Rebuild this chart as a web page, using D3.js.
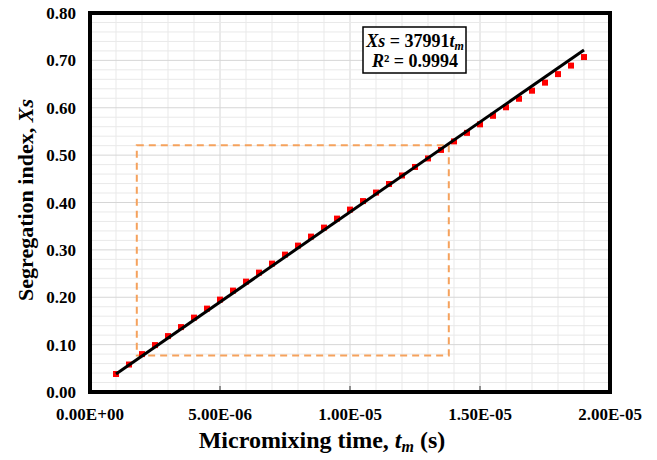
<!DOCTYPE html>
<html>
<head>
<meta charset="utf-8">
<style>
  body { margin: 0; background: #fff; }
  svg text { font-family: "Liberation Serif", "Times New Roman", serif; font-weight: bold; fill: #000; }
</style>
</head>
<body>
<svg id="chart" width="657" height="460"></svg>
<script src="https://cdn.jsdelivr.net/npm/d3@7"></script>
<script>
// micromixing time (s) and segregation index
var timeVals = [1.0e-6, 1.5e-6, 2.0e-6, 2.5e-6, 3.0e-6, 3.5e-6, 4.0e-6, 4.5e-6, 5.0e-6, 5.5e-6,
                6.0e-6, 6.5e-6, 7.0e-6, 7.5e-6, 8.0e-6, 8.5e-6, 9.0e-6, 9.5e-6, 1.0e-5, 1.05e-5,
                1.1e-5, 1.15e-5, 1.2e-5, 1.25e-5, 1.3e-5, 1.35e-5, 1.4e-5, 1.45e-5, 1.5e-5, 1.55e-5,
                1.6e-5, 1.65e-5, 1.7e-5, 1.75e-5, 1.8e-5, 1.85e-5, 1.9e-5];
var xsVals = [0.038, 0.058, 0.080, 0.099, 0.118, 0.137, 0.157, 0.176, 0.195, 0.214,
              0.233, 0.252, 0.271, 0.290, 0.309, 0.328, 0.347, 0.366, 0.385, 0.403,
              0.421, 0.439, 0.457, 0.475, 0.493, 0.511, 0.529, 0.547, 0.565, 0.583,
              0.601, 0.619, 0.636, 0.653, 0.671, 0.689, 0.707];

// linear fit Xs = 37991 tm
var fitSlope = 37991;
var fitRange = [1.0e-6, 1.9e-5];

// orange dashed box
var boxT = [1.8e-6, 1.38e-5];
var boxXs = [0.077, 0.521];

var xTicks = [0, 5e-6, 1e-5, 1.5e-5, 2e-5];
var xTickLabels = ["0.00E+00", "5.00E-06", "1.00E-05", "1.50E-05", "2.00E-05"];
var yTicks = [0, 0.1, 0.2, 0.3, 0.4, 0.5, 0.6, 0.7, 0.8];

var svg = d3.select("#chart");
var plotL = 90, plotR = 610, plotT = 13, plotB = 392;

var x = d3.scaleLinear().domain([0, 2e-5]).range([plotL, plotR]);
var y = d3.scaleLinear().domain([0, 0.8]).range([plotB, plotT]);

// grid
var grid = svg.append("g");
grid.selectAll(".vminor").data(d3.range(1, 20).map(function(i) { return i * 1e-6; }))
  .enter().append("line")
    .attr("x1", function(d) { return x(d); }).attr("x2", function(d) { return x(d); })
    .attr("y1", plotT).attr("y2", plotB)
    .attr("stroke", function(d, i) { return (i + 1) % 5 == 0 ? "#d6d6d6" : "#e9e9e9"; })
    .attr("stroke-width", 1);
grid.selectAll(".hminor").data(d3.range(1, 40).map(function(i) { return i * 0.02; }))
  .enter().append("line")
    .attr("x1", plotL).attr("x2", plotR)
    .attr("y1", function(d) { return y(d); }).attr("y2", function(d) { return y(d); })
    .attr("stroke", function(d, i) { return (i + 1) % 5 == 0 ? "#d6d6d6" : "#e9e9e9"; })
    .attr("stroke-width", 1);

// dashed box
svg.append("rect")
  .attr("x", x(boxT[0])).attr("y", y(boxXs[1]))
  .attr("width", x(boxT[1]) - x(boxT[0]))
  .attr("height", y(boxXs[0]) - y(boxXs[1]))
  .attr("fill", "none")
  .attr("stroke", "#f5a25d")
  .attr("stroke-width", 2)
  .attr("stroke-dasharray", "7,5");

// points
svg.append("g").selectAll("rect")
  .data(timeVals)
  .enter().append("rect")
    .attr("x", function(d) { return x(d) - 3; })
    .attr("y", function(d, i) { return y(xsVals[i]) - 3; })
    .attr("width", 6).attr("height", 6)
    .attr("fill", "#ff0000");

// fit line
svg.append("line")
  .attr("x1", x(fitRange[0])).attr("y1", y(fitSlope * fitRange[0]))
  .attr("x2", x(fitRange[1])).attr("y2", y(fitSlope * fitRange[1]))
  .attr("stroke", "#000")
  .attr("stroke-width", 3);

// x ticks (inward)
svg.append("g").selectAll("line")
  .data(xTicks.slice(1, 4))
  .enter().append("line")
    .attr("x1", function(d) { return x(d); }).attr("x2", function(d) { return x(d); })
    .attr("y1", plotB).attr("y2", plotB - 6)
    .attr("stroke", "#333").attr("stroke-width", 1);

// frame
svg.append("rect")
  .attr("x", plotL).attr("y", plotT)
  .attr("width", plotR - plotL).attr("height", plotB - plotT)
  .attr("fill", "none")
  .attr("stroke", "#000")
  .attr("stroke-width", 4);

// tick labels
svg.append("g").selectAll("text")
  .data(yTicks)
  .enter().append("text")
    .attr("x", 76)
    .attr("y", function(d) { return y(d) + 6; })
    .attr("text-anchor", "end")
    .style("font-size", "17px")
    .text(function(d) { return d.toFixed(2); });

svg.append("g").selectAll("text")
  .data(xTicks)
  .enter().append("text")
    .attr("x", function(d) { return x(d); })
    .attr("y", 420)
    .attr("text-anchor", "middle")
    .style("font-size", "17px")
    .text(function(d, i) { return xTickLabels[i]; });

// axis titles
var xt = svg.append("text")
  .attr("x", 322).attr("y", 448)
  .attr("text-anchor", "middle")
  .style("font-size", "24px");
xt.append("tspan").text("Micromixing time, ");
xt.append("tspan").style("font-style", "italic").text("t");
xt.append("tspan").style("font-style", "italic").style("font-size", "16px").attr("dy", 4).text("m");
xt.append("tspan").attr("dy", -4).text(" (s)");

var yt = svg.append("text")
  .attr("transform", "translate(33,200) rotate(-90)")
  .attr("text-anchor", "middle")
  .style("font-size", "22px");
yt.append("tspan").text("Segregation index, ");
yt.append("tspan").style("font-style", "italic").text("Xs");

// equation box
svg.append("rect")
  .attr("x", 363).attr("y", 27).attr("width", 103).attr("height", 46)
  .attr("fill", "#fff").attr("stroke", "#000").attr("stroke-width", 1.5);

var eq1 = svg.append("text")
  .attr("x", 415).attr("y", 47)
  .attr("text-anchor", "middle")
  .style("font-size", "18px");
eq1.append("tspan").style("font-style", "italic").text("Xs");
eq1.append("tspan").text(" = " + fitSlope);
eq1.append("tspan").style("font-style", "italic").text("t");
eq1.append("tspan").style("font-style", "italic").style("font-size", "12px").attr("dy", 3).text("m");

var eq2 = svg.append("text")
  .attr("x", 415).attr("y", 67)
  .attr("text-anchor", "middle")
  .style("font-size", "18px");
eq2.append("tspan").style("font-style", "italic").text("R");
eq2.append("tspan").text("² = 0.9994");
</script>
</body>
</html>
